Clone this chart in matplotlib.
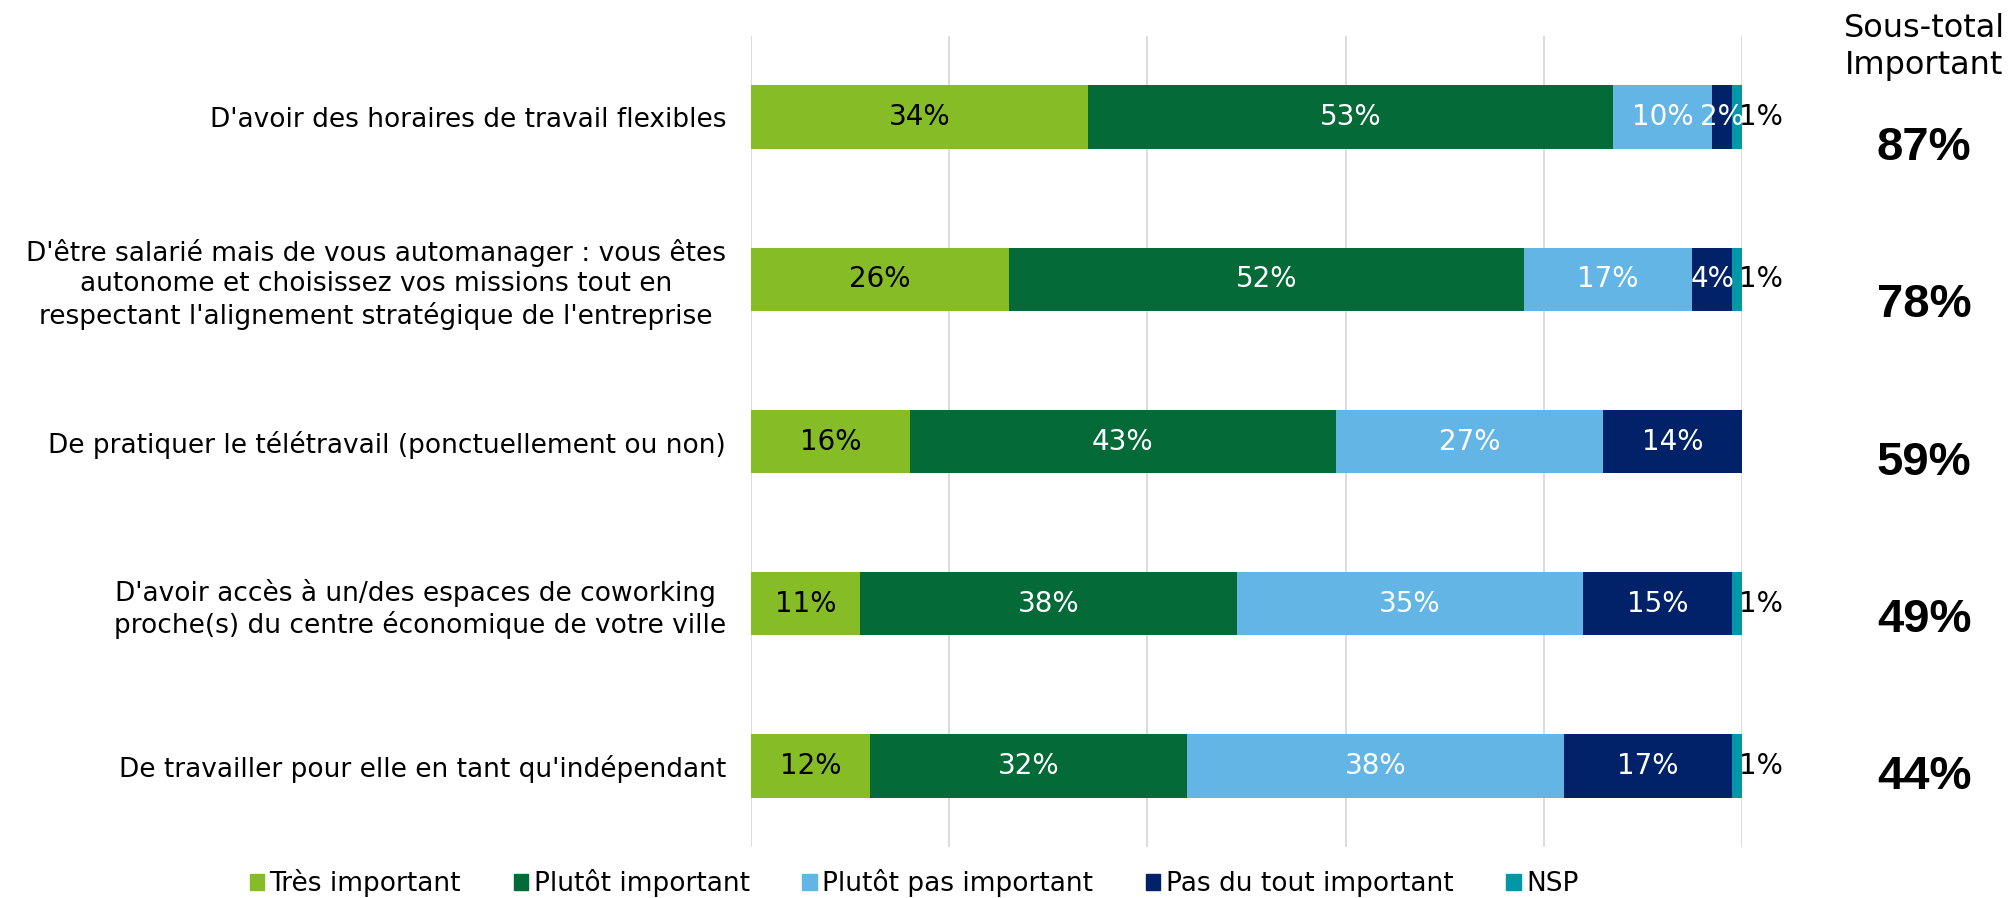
import numpy as np
from matplotlib import pyplot as plt
from matplotlib.patches import Patch

# ----------------------------------------------------------------------
#  data
categories = [
    "D'avoir des horaires de travail flexibles",
    "D'être salarié mais de vous automanager : vous êtes\nautonome et choisissez vos missions tout en\nrespectant l'alignement stratégique de l'entreprise",
    "De pratiquer le télétravail (ponctuellement ou non)",
    "D'avoir accès à un/des espaces de coworking \nproche(s) du centre économique de votre ville",
    "De travailler pour elle en tant qu'indépendant",
]
series_names = ["Très important", "Plutôt important", "Plutôt pas important",
                "Pas du tout important", "NSP"]
tres_important = [34, 26, 16, 11, 12]
plutot_important = [53, 52, 43, 38, 32]
plutot_pas = [10, 17, 27, 35, 38]
pas_du_tout = [2, 4, 14, 15, 17]
nsp = [1, 1, 0, 1, 1]
header = "Sous-total\nImportant"

colors = ["#86BC25", "#046A38", "#62B5E5", "#012169", "#0097A9"]
label_colors = ["black", "white", "white", "white", "black"]

values = np.array([tres_important, plutot_important, plutot_pas, pas_du_tout, nsp])
subtotal = values[0] + values[1]

plt.rcParams['font.family'] = ['DejaVu Sans']

W, H = 2013, 898
fig = plt.figure(figsize=(W / 100, H / 100), dpi=100)
ax = fig.add_axes([751 / W, 1 - 847 / H, (1742 - 751) / W, (847 - 36) / H])

y = np.arange(len(categories))
left = np.zeros(len(categories))
for k in range(len(series_names)):
    ax.barh(y, values[k], left=left, height=0.39, color=colors[k], zorder=3)
    for i in range(len(categories)):
        v = values[k][i]
        if v == 0:
            continue
        if k == 4:
            ax.text(left[i] + v + 1.9, i, "%d%%" % v, ha='center', va='center',
                    fontsize=20, color=label_colors[k], zorder=4)
        else:
            ax.text(left[i] + v / 2, i, "%d%%" % v, ha='center', va='center',
                    fontsize=20, color=label_colors[k], zorder=4)
    left = left + values[k]

ax.set_xlim(0, 100)
ax.set_ylim(4.5, -0.5)
ax.set_xticks(np.arange(0, 101, 20))
ax.set_xticklabels([])
ax.tick_params(axis='x', length=0)
ax.grid(axis='x', color='#d9d9d9', linewidth=1.3, zorder=0)
ax.set_yticks(y)
ax.set_yticklabels(categories, fontsize=19, multialignment='center', linespacing=1.2)
ax.tick_params(axis='y', length=0, pad=18)
for s in ax.spines.values():
    s.set_visible(False)

# sous-total column
fig.text(1924 / W, 1 - 47 / H, header, ha='center', va='center', fontsize=23,
         linespacing=1.25)
for i, v in enumerate(subtotal):
    fig.text(1924 / W, 1 - (148 + 157.3 * i) / H, "%d%%" % v, ha='center', va='center',
             fontsize=34, fontweight='bold', family='Liberation Sans')

handles = [Patch(color=c) for c in colors]
fig.legend(handles, series_names, loc='center', bbox_to_anchor=(914 / W, 1 - 883 / H),
           ncol=5, frameon=False, fontsize=19, handlelength=0.55, handleheight=0.55,
           handletextpad=0.2, columnspacing=2.0)

plt.savefig("out.png", dpi=100)
